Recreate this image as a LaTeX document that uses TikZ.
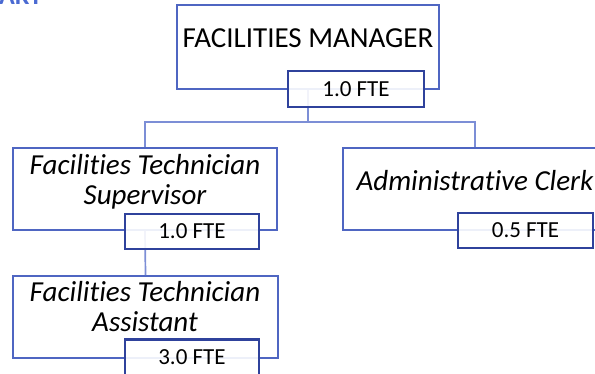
\documentclass[tikz,border=0pt]{standalone}
\usepackage{fontspec}
\setmainfont[Ligatures=NoCommon]{Carlito}
\usetikzlibrary{positioning}

\definecolor{boxblue}{HTML}{4F66C2}
\definecolor{ftebluedark}{HTML}{2F429C}
\definecolor{linkblue}{HTML}{7C8ED6}
\definecolor{titleblue}{HTML}{4A6AD2}

\tikzset{
  unitbox/.style={draw=boxblue, line width=1.7pt, fill=white, inner sep=0pt},
  ftebox/.style={draw=ftebluedark, line width=2.2pt, fill=white, fill opacity=0.9, text opacity=1,
    minimum width=134pt, minimum height=35pt, inner sep=0pt, font=\fontsize{23}{25}\selectfont},
  rolename/.style={align=center, inner sep=0pt, font=\fontsize{29}{30}\selectfont},
  link/.style={draw=linkblue, line width=1.7pt}
}

\begin{document}
\begin{tikzpicture}[x=1pt, y=-1pt]
  \useasboundingbox (0,0) rectangle (595,374);

  % heading, mostly above the page
  \node (heading) [anchor=base west, inner sep=0pt, text=titleblue, font=\fontsize{26}{28}\selectfont\bfseries] at (-1,5) {ART};

  % outer boxes
  \node (mgr) [unitbox, minimum width=262pt, minimum height=84pt] at (308,47) {};
  \node (sup) [unitbox, minimum width=264pt, minimum height=82pt] at (145,189) {};
  \node (clerk) [unitbox, minimum width=264pt, minimum height=82pt] at (475,189) {};
  \node (asst) [unitbox, minimum width=265pt, minimum height=82pt] at (145.5,317) {};

  % connectors
  \draw [link] (mgr.south) -- ++(0,32) -| (sup.north);
  \draw [link] (mgr.south) -- ++(0,32) -| (clerk.north);
  \draw [link] (sup.south) -- (asst.north);

  % titles
  \node (mgrname) [rolename] at (308,38) {FACILITIES MANAGER};
  \node (supname) [rolename, font=\fontsize{29}{30}\selectfont\itshape] at (145,182) {Facilities Technician\\Supervisor};
  \node (clerkname) [rolename, font=\fontsize{29}{30}\selectfont\itshape] at (475,181) {Administrative Clerk};
  \node (asstname) [rolename, font=\fontsize{29}{30}\selectfont\itshape] at (145,307) {Facilities Technician\\Assistant};

  % staffing levels
  \node (mgrfte) [ftebox, minimum width=136pt, minimum height=36pt] at (356,89) {1.0 FTE};
  \node (supfte) [ftebox] at (192,231.5) {1.0 FTE};
  \node (clerkfte) [ftebox, minimum width=135pt] at (525.5,230.5) {0.5 FTE};
  \node (asstfte) [ftebox, minimum height=36pt] at (192,357.5) {3.0 FTE};
\end{tikzpicture}
\end{document}
